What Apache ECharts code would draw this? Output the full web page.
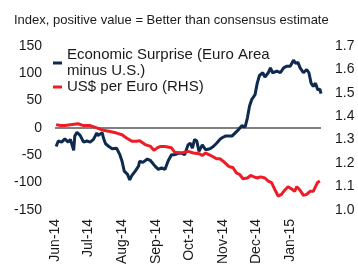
<!DOCTYPE html>
<html>
<head>
<meta charset="utf-8">
<script src="https://cdn.jsdelivr.net/npm/echarts@6/dist/echarts.min.js"></script>
<style>
  html, body { margin: 0; padding: 0; background: #fff; }
  #chart { width: 358px; height: 267px; }
</style>
</head>
<body>
<div id="chart"></div>
<script>
const econDates = ['2014-06-02','2014-06-04','2014-06-07','2014-06-10','2014-06-13','2014-06-15','2014-06-18','2014-06-19','2014-06-21','2014-06-24','2014-06-27','2014-06-30',
  '2014-07-03','2014-07-06','2014-07-09','2014-07-10','2014-07-14','2014-07-15','2014-07-17','2014-07-20','2014-07-23','2014-07-27','2014-07-30',
  '2014-08-01','2014-08-03','2014-08-06','2014-08-08','2014-08-10','2014-08-13','2014-08-16','2014-08-17','2014-08-20','2014-08-24','2014-08-27','2014-08-28','2014-08-31',
  '2014-09-03','2014-09-06','2014-09-09','2014-09-12','2014-09-15','2014-09-18','2014-09-22','2014-09-25','2014-09-27','2014-09-30',
  '2014-10-02','2014-10-04','2014-10-06','2014-10-08','2014-10-10','2014-10-13','2014-10-16','2014-10-20','2014-10-23','2014-10-26','2014-10-29','2014-10-31',
  '2014-11-03','2014-11-04','2014-11-09','2014-11-12','2014-11-15','2014-11-18','2014-11-21','2014-11-23','2014-11-25','2014-11-27','2014-11-30',
  '2014-12-02','2014-12-04','2014-12-07','2014-12-09','2014-12-12','2014-12-14','2014-12-16','2014-12-20','2014-12-23','2014-12-26','2014-12-29',
  '2015-01-01','2015-01-04','2015-01-06','2015-01-08','2015-01-10','2015-01-13','2015-01-16','2015-01-18','2015-01-20','2015-01-22','2015-01-24','2015-01-26','2015-01-28','2015-01-29'];
const econValues = [-34,-24,-26,-20,-26,-21,-41,-15,-8,-14,-26,-24,
  -26,-21,-9,-14,-9,-18,-29,-34,-38,-37,-49,
  -61,-79,-85,-95,-87,-79,-70,-61,-63,-57,-60,-57,-70,
  -76,-73,-76,-60,-49,-49,-46,-47,-49,-31,
  -28,-37,-21,-24,-43,-31,-40,-38,-34,-28,-21,-18,
  -15,-12,-15,-9,-3,4,2,18,40,52,61,
  82,96,101,93,101,110,101,104,101,110,113,
  113,124,118,120,110,101,107,101,82,76,82,70,71,63];

const usdDates = ['2014-06-02','2014-06-06','2014-06-10','2014-06-15','2014-06-22','2014-06-27',
  '2014-07-03','2014-07-09','2014-07-15','2014-07-21','2014-07-27',
  '2014-08-01','2014-08-05','2014-08-10','2014-08-14','2014-08-17','2014-08-22','2014-08-27','2014-08-30',
  '2014-09-02','2014-09-05','2014-09-09','2014-09-15','2014-09-18','2014-09-24','2014-09-30',
  '2014-10-05','2014-10-10','2014-10-13','2014-10-16','2014-10-19','2014-10-22','2014-10-26','2014-10-29',
  '2014-11-01','2014-11-06','2014-11-10','2014-11-13','2014-11-16','2014-11-19','2014-11-23','2014-11-26','2014-11-29',
  '2014-12-02','2014-12-05','2014-12-09','2014-12-12','2014-12-15','2014-12-18','2014-12-21','2014-12-24','2014-12-27','2014-12-30',
  '2015-01-03','2015-01-05','2015-01-07','2015-01-10','2015-01-13','2015-01-16','2015-01-19','2015-01-22','2015-01-24','2015-01-26','2015-01-28'];
const usdValues = [1.364,1.360,1.360,1.364,1.368,1.360,
  1.360,1.350,1.340,1.335,1.328,
  1.321,1.307,1.293,1.293,1.295,1.279,1.271,1.254,
  1.265,1.271,1.271,1.265,1.246,1.243,1.250,
  1.243,1.240,1.232,1.243,1.236,1.229,1.218,1.218,
  1.208,1.186,1.180,1.158,1.151,1.133,1.136,1.147,1.141,
  1.136,1.141,1.136,1.123,1.116,1.087,1.059,1.066,1.084,1.099,
  1.087,1.079,1.099,1.084,1.062,1.066,1.079,1.079,1.099,1.118,1.123];

const leftTicks = { min: -150, max: 150, step: 50 };
const rightTicks = { min: 1.0, max: 1.7, step: 0.1 };
const monthNames = ['Jan','Feb','Mar','Apr','May','Jun','Jul','Aug','Sep','Oct','Nov','Dec'];

// one category per calendar day
let days = [];
for (let t = Date.UTC(2014, 5, 1); t <= Date.UTC(2015, 0, 29); t += 86400000) {
  days.push(new Date(t).toISOString().slice(0, 10));
}

function spread(dates, values) {
  let out = days.map(() => null);
  dates.forEach((d, i) => { out[days.indexOf(d)] = values[i]; });
  return out;
}

let myChart = echarts.init(document.getElementById('chart'));
let textColor = '#1a1a1a';
let legendText = { fontFamily: 'Liberation Sans', fontSize: 15, lineHeight: 16, color: textColor };
let option = {
  animation: false,
  title: {
    text: 'Index, positive value = Better than consensus estimate',
    left: 14, top: 14, padding: 0,
    textStyle: { fontFamily: 'Liberation Sans', fontSize: 13, fontWeight: 'normal', color: textColor }
  },
  legend: {
    orient: 'vertical',
    left: 53, top: 39, padding: 0, itemGap: -8,
    icon: 'rect', itemWidth: 9, itemHeight: 3,
    selectedMode: false,
    data: [
      { name: 'Economic Surprise (Euro Area\nminus U.S.)',
        textStyle: Object.assign({}, legendText, { padding: [16, 0, 0, 0] }) },
      { name: 'US$ per Euro (RHS)' }
    ],
    textStyle: legendText
  },
  grid: { left: 55, right: 37, top: 46, bottom: 56 },
  xAxis: {
    type: 'category',
    data: days,
    boundaryGap: false,
    axisLine: { show: false },
    axisTick: { show: false },
    axisLabel: {
      rotate: 90, margin: 9,
      fontFamily: 'Liberation Sans', fontSize: 14, color: textColor,
      interval: (idx, val) => val.slice(8) === '01',
      formatter: val => monthNames[+val.slice(5, 7) - 1] + '-' + val.slice(2, 4)
    }
  },
  yAxis: [{
    type: 'value',
    min: leftTicks.min, max: leftTicks.max, interval: leftTicks.step,
    axisLine: { show: false }, axisTick: { show: false }, splitLine: { show: false },
    axisLabel: { margin: 13, fontFamily: 'Liberation Sans', fontSize: 14, color: textColor }
  }, {
    type: 'value',
    min: rightTicks.min, max: rightTicks.max, interval: rightTicks.step,
    axisLine: { show: false }, axisTick: { show: false }, splitLine: { show: false },
    axisLabel: { margin: 14, fontFamily: 'Liberation Sans', fontSize: 14, color: textColor,
      formatter: v => v.toFixed(1) }
  }],
  series: [{
    name: 'Economic Surprise (Euro Area\nminus U.S.)',
    type: 'line',
    yAxisIndex: 0,
    data: spread(econDates, econValues),
    connectNulls: true,
    showSymbol: false,
    color: '#0e2a4e',
    lineStyle: { width: 3, color: '#0e2a4e' },
    markLine: {
      silent: true, z: 1, symbol: 'none', label: { show: false },
      lineStyle: { type: 'solid', color: '#808080', width: 2 },
      data: [{ yAxis: 0 }]
    }
  }, {
    name: 'US$ per Euro (RHS)',
    type: 'line',
    yAxisIndex: 1,
    data: spread(usdDates, usdValues),
    connectNulls: true,
    showSymbol: false,
    color: '#ee1c25',
    lineStyle: { width: 3, color: '#ee1c25' }
  }]
};
myChart.setOption(option);
</script>
</body>
</html>
